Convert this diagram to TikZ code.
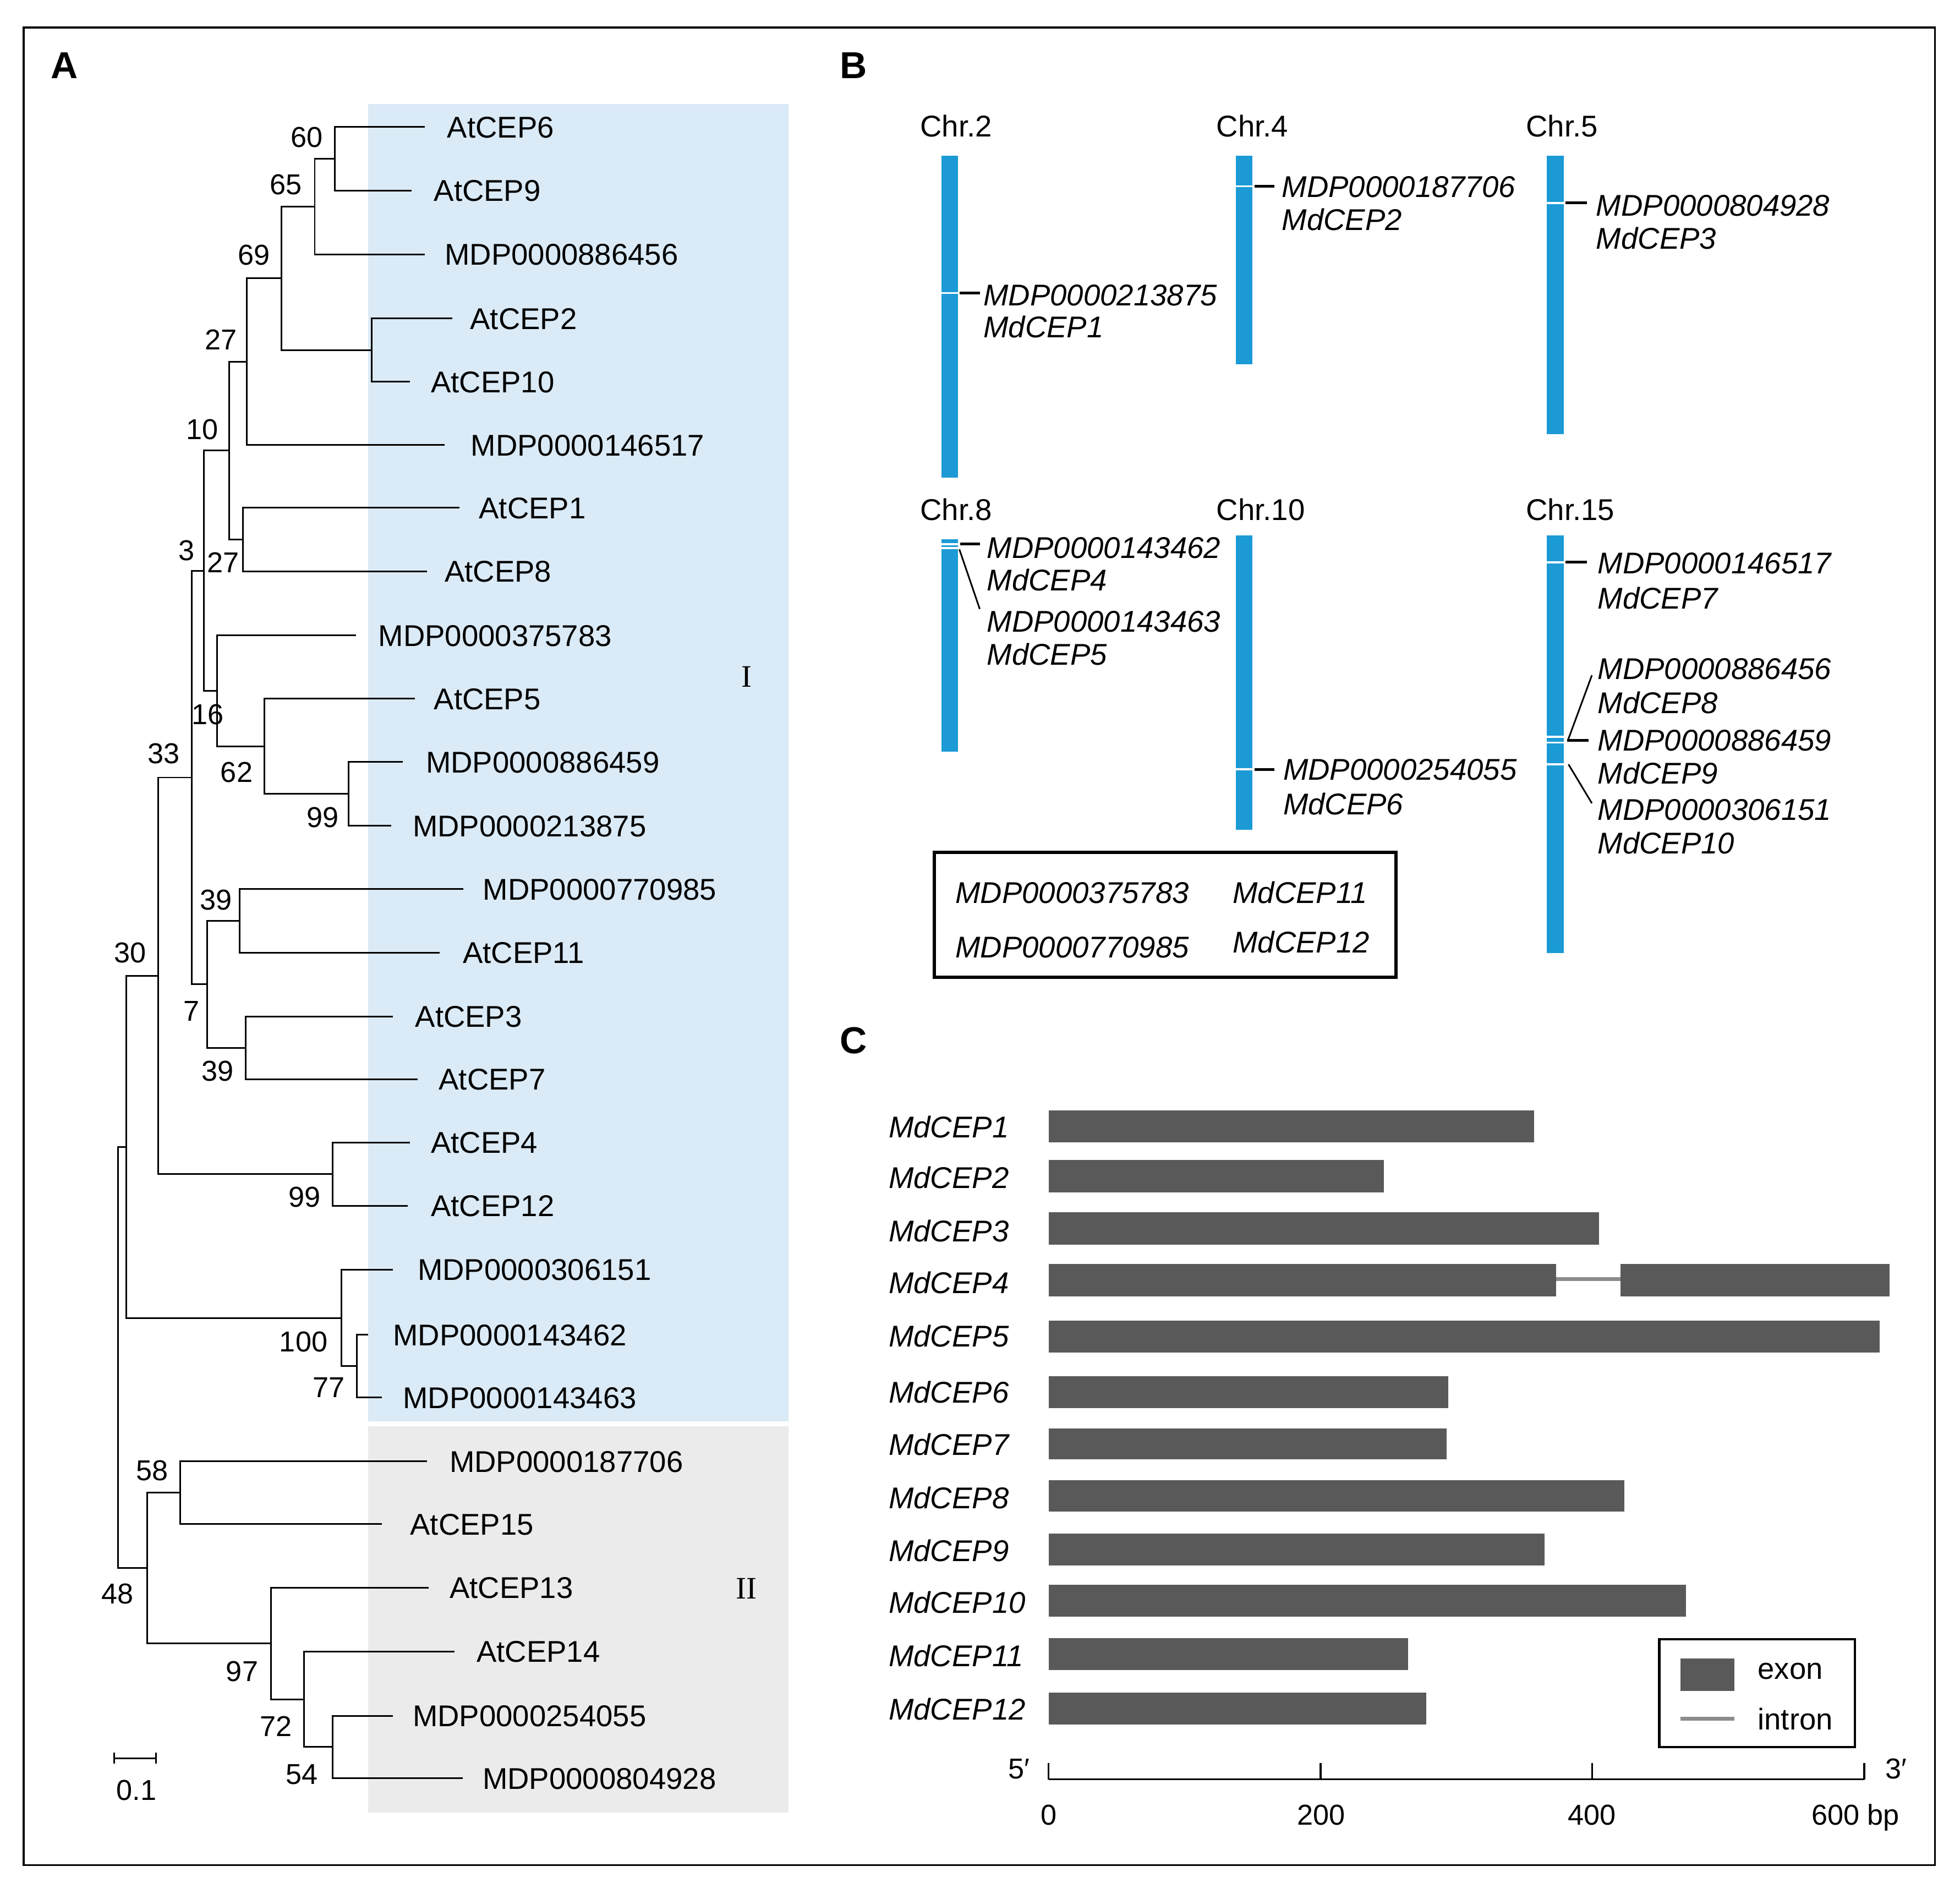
\documentclass[tikz,border=0pt]{standalone}
\usepackage{fontspec}
\setmainfont{Liberation Sans}
\newfontfamily\romanfont{Liberation Serif}
\usetikzlibrary{calc}
\newcommand\fsz[1]{\fontsize{#1}{#1}\selectfont}
\newcommand\mkclade[3]{\draw[br] (#2) -- (#2 -| #1) -- (#3 -| #1) -- (#3);}
\definecolor{bgblue}{HTML}{DAEAF6}
\definecolor{bggrey}{HTML}{EBEBEB}
\definecolor{chrblue}{HTML}{1B9AD6}
\definecolor{exongrey}{HTML}{595959}
\definecolor{introngrey}{HTML}{8C8C8C}
\begin{document}
\begin{tikzpicture}[x=1pt,y=-1pt,
  br/.style={line width=1.3pt, black, line join=miter},
  leaf/.style={inner sep=0pt, anchor=west, font=\fsz{24}, text height=17.2pt, text depth=0pt},
  bs/.style={inner sep=0pt, font=\fsz{23}, text height=16.5pt, text depth=0pt},
  gen/.style={inner sep=0pt, anchor=west, font=\fsz{24}\itshape, text height=17.2pt, text depth=0pt},
  chrlab/.style={inner sep=0pt, anchor=west, font=\fsz{24}, text height=17.2pt, text depth=0pt},
  panel/.style={inner sep=0pt, font=\fsz{30}\bfseries, text height=21.5pt, text depth=0pt},
  chrbar/.style={fill=chrblue, draw=none},
  gap/.style={fill=white, draw=none},
  tick/.style={line width=2.2pt, black},
  diag/.style={line width=1.3pt, black},
  exon/.style={fill=exongrey, draw=none},
  intron/.style={line width=3pt, introngrey},
  axlab/.style={inner sep=0pt, font=\fsz{23}, text height=16.5pt, text depth=0pt}]
\useasboundingbox (0,0) rectangle (1568,1515);
\fill[white] (0,0) rectangle (1568,1515);

% ---------------- Panel A ----------------
\fill[bgblue] (294.7,83.4) rectangle (630.7,1137.2);
\fill[bggrey] (294.7,1140.8) rectangle (630.7,1450);
\node[panel] (pA) at (51.6,51.8) {A};
\node[inner sep=0pt, font=\fsz{25}\romanfont] (gI) at (597.3,541.3) {I};
\node[inner sep=0pt, font=\fsz{25}\romanfont] (gII) at (597.3,1271) {II};

\foreach \yy/\xe/\xl/\nm [count=\i] in {
 101.6/340/357.6/AtCEP6,
 152.5/329.2/347/AtCEP9,
 203.5/340/355.6/MDP0000886456,
 254.8/361.9/376/AtCEP2,
 305.4/328/344.6/AtCEP10,
 356/355.6/376.5/MDP0000146517,
 406.1/367.4/383/AtCEP1,
 457/341.8/355.6/AtCEP8,
 508.3/284.8/302.5/MDP0000375783,
 558.9/332/347/AtCEP5,
 609.6/322.2/340.6/MDP0000886459,
 660.5/313.1/330/MDP0000213875,
 711.2/370.5/386.2/MDP0000770985,
 762.1/351.6/370.1/AtCEP11,
 813.1/314.3/332/AtCEP3,
 863.4/334/350.9/AtCEP7,
 914/328.1/344.6/AtCEP4,
 964.6/326.1/344.6/AtCEP12,
 1015.7/314.3/334/MDP0000306151,
 1067.9/294.7/314.3/MDP0000143462,
 1117.9/305.7/322.2/MDP0000143463,
 1169/341.8/359.5/MDP0000187706,
 1219.3/305.7/328/AtCEP15,
 1270/343/359.5/AtCEP13,
 1321.2/363.4/381.1/AtCEP14,
 1372.6/314.3/330/MDP0000254055,
 1422.6/370.1/385.9/MDP0000804928}
{
  \coordinate (l\i) at (\xe,\yy);
  \node[leaf] (t\i) at (\xl,\yy) {\nm};
}

\coordinate (n60) at (268,127.05);
\coordinate (n65) at (251.8,165.3);
\coordinate (nA2) at (297.4,280.1);
\coordinate (n69) at (225.1,222.7);
\coordinate (n27a) at (197.6,289.35);
\coordinate (n27b) at (194.5,431.55);
\coordinate (n10) at (183.4,360.45);
\coordinate (n99a) at (279,635.05);
\coordinate (n62) at (211.7,596.98);
\coordinate (n16) at (173.6,552.64);
\coordinate (n3) at (163,456.55);
\coordinate (n39a) at (191.7,736.65);
\coordinate (n39b) at (196.4,838.25);
\coordinate (n7) at (165.8,787.45);
\coordinate (n33) at (153.2,622);
\coordinate (n99b) at (266,939.3);
\coordinate (n30) at (126.5,780.65);
\coordinate (n77) at (285.6,1092.9);
\coordinate (n100) at (273.1,1054.3);
\coordinate (nA) at (100.9,917.48);
\coordinate (n58) at (144.1,1194.15);
\coordinate (n54) at (266,1397.6);
\coordinate (n72) at (243.2,1359.4);
\coordinate (n97) at (216.9,1314.7);
\coordinate (n48) at (117.8,1254.43);
\coordinate (nroot) at (94.6,1085.95);

\mkclade{n60}{l1}{l2}
\mkclade{n65}{n60}{l3}
\mkclade{nA2}{l4}{l5}
\mkclade{n69}{n65}{nA2}
\mkclade{n27a}{n69}{l6}
\mkclade{n27b}{l7}{l8}
\mkclade{n10}{n27a}{n27b}
\mkclade{n99a}{l11}{l12}
\mkclade{n62}{l10}{n99a}
\mkclade{n16}{l9}{n62}
\mkclade{n3}{n10}{n16}
\mkclade{n39a}{l13}{l14}
\mkclade{n39b}{l15}{l16}
\mkclade{n7}{n39a}{n39b}
\mkclade{n33}{n3}{n7}
\mkclade{n99b}{l17}{l18}
\mkclade{n30}{n33}{n99b}
\mkclade{n77}{l20}{l21}
\mkclade{n100}{l19}{n77}
\mkclade{nA}{n30}{n100}
\mkclade{n58}{l22}{l23}
\mkclade{n54}{l26}{l27}
\mkclade{n72}{l25}{n54}
\mkclade{n97}{l24}{n72}
\mkclade{n48}{n58}{n97}
\mkclade{nroot}{nA}{n48}

\foreach \xx/\yy/\v [count=\i] in {
 245.5/109.6/60, 228.6/147.3/65, 203/203.8/69, 176.8/271.4/27,
 161.8/343.4/10, 149.3/440/3, 178.7/449.9/27, 166.2/571.3/16,
 130.8/602.5/33, 189.3/617.6/62, 258/653.4/99, 172.8/719.5/39,
 104/762/30, 153.2/808.4/7, 174/856.3/39, 243.6/957.3/99,
 242.8/1073.3/100, 263.2/1109.8/77, 121.8/1176.3/58, 94.2/1274.8/48,
 193.7/1336.9/97, 220.8/1380.7/72, 241.6/1419/54}
{
  \node[bs] (bs\i) at (\xx,\yy) {\v};
}

% scale bar
\coordinate (sb1) at (91.5,1406.5);
\coordinate (sb2) at (124.9,1406.5);
\draw[line width=1.4pt] (sb1) -- (sb2);
\draw[line width=1.4pt] ($(sb1)+(0,-4.5)$) -- ($(sb1)+(0,4.5)$);
\draw[line width=1.4pt] ($(sb2)+(0,-4.5)$) -- ($(sb2)+(0,4.5)$);
\node[bs] (sbl) at (109.2,1431.8) {0.1};

% ---------------- Panel B ----------------
\node[panel] (pB) at (683,51.8) {B};
\node[chrlab] (c2) at (736,101) {Chr.2};
\node[chrlab] (c4) at (973,101) {Chr.4};
\node[chrlab] (c5) at (1220.7,101) {Chr.5};
\node[chrlab] (c8) at (736,407.6) {Chr.8};
\node[chrlab] (c10) at (973,407.6) {Chr.10};
\node[chrlab] (c15) at (1220.7,407.6) {Chr.15};

\fill[chrbar] (753,124.5) rectangle (766.5,382.3);
\fill[chrbar] (988.8,124.5) rectangle (1002,291.3);
\fill[chrbar] (1237.5,124.5) rectangle (1251,347.4);
\fill[chrbar] (753,431.3) rectangle (766.5,601.4);
\fill[chrbar] (988.8,428.3) rectangle (1002,663.6);
\fill[chrbar] (1237.5,428.3) rectangle (1251,762.6);

\fill[gap] (753,233.6) rectangle (766.5,235.2);
\fill[gap] (988.8,148.2) rectangle (1002,149.8);
\fill[gap] (1237.5,161.6) rectangle (1251,163.2);
\fill[gap] (753,434.6) rectangle (766.5,436.1);
\fill[gap] (753,437.6) rectangle (766.5,439.1);
\fill[gap] (988.8,614.7) rectangle (1002,616.3);
\fill[gap] (1237.5,449) rectangle (1251,450.6);
\fill[gap] (1237.5,588.7) rectangle (1251,590.3);
\fill[gap] (1237.5,593.2) rectangle (1251,594.8);
\fill[gap] (1237.5,610.6) rectangle (1251,612.2);

\node[gen] (g1a) at (786.6,236) {MDP0000213875};
\node[gen] (g1b) at (786.6,261.5) {MdCEP1};
\node[gen] (g2a) at (1025.3,149) {MDP0000187706};
\node[gen] (g2b) at (1025.3,175.5) {MdCEP2};
\node[gen] (g3a) at (1276.8,164) {MDP0000804928};
\node[gen] (g3b) at (1276.8,190.7) {MdCEP3};
\node[gen] (g4a) at (789.4,437.9) {MDP0000143462};
\node[gen] (g4b) at (789.4,463.9) {MdCEP4};
\node[gen] (g5a) at (789.4,496.8) {MDP0000143463};
\node[gen] (g5b) at (789.4,523.3) {MdCEP5};
\node[gen] (g6a) at (1026.4,615.5) {MDP0000254055};
\node[gen] (g6b) at (1026.4,643.3) {MdCEP6};
\node[gen] (g7a) at (1278,450.5) {MDP0000146517};
\node[gen] (g7b) at (1278,478.3) {MdCEP7};
\node[gen] (g8a) at (1278,534.7) {MDP0000886456};
\node[gen] (g8b) at (1278,562.2) {MdCEP8};
\node[gen] (g9a) at (1278,592) {MDP0000886459};
\node[gen] (g9b) at (1278,618.6) {MdCEP9};
\node[gen] (g10a) at (1278,647.6) {MDP0000306151};
\node[gen] (g10b) at (1278,674.2) {MdCEP10};

\draw[tick] (767.5,234.4) -- (783.8,234.4);
\draw[tick] (1003.5,149) -- (1019.7,149);
\draw[tick] (1252.5,162.4) -- (1269.5,162.4);
\draw[tick] (768,435) -- (784,435);
\draw[diag] (767.5,439.5) -- (783.8,487.2);
\draw[tick] (1003.5,615.5) -- (1019.7,615.5);
\draw[tick] (1252.5,449.8) -- (1269.5,449.8);
\draw[diag] (1273.5,540.2) -- (1254.4,592);
\draw[tick] (1253.6,592.2) -- (1270.7,592.2);
\draw[diag] (1254.8,611.5) -- (1273.5,642.6);

\draw[line width=2.6pt] (747.3,681.7) rectangle (1116.8,781.6);
\node[gen] (k1) at (764.2,714.1) {MDP0000375783};
\node[gen] (k2) at (986,714.1) {MdCEP11};
\node[gen] (k3) at (764.2,757.6) {MDP0000770985};
\node[gen] (k4) at (986,753.8) {MdCEP12};

% ---------------- Panel C ----------------
\node[panel] (pC) at (683,832) {C};
\foreach \tp/\bt/\xe/\ly [count=\i] in {
 888.1/913.7/1227.4/901.6,
 928.1/954.1/1107/942,
 969.8/995.9/1279.1/984.7,
 1011.2/1037.2/1244.8/1026,
 1056.5/1082.1/1503.7/1068.7,
 1101/1126.6/1158.4/1113.6,
 1142.8/1167.5/1157.2/1155.4,
 1184.1/1209.3/1299.3/1198,
 1226.8/1252.4/1235.8/1240.3,
 1267.7/1293.3/1348.7/1282,
 1310.3/1335.9/1126.3/1324.7,
 1353.9/1379.5/1141/1367.4}
{
  \fill[exon] (838.9,\tp) rectangle (\xe,\bt);
  \node[gen] (m\i) at (710.8,\ly) {MdCEP\i};
}
\draw[intron] (1244.8,1023.3) -- (1296.5,1023.3);
\fill[exon] (1296.5,1011.2) rectangle (1511.5,1037.2);

% legend
\draw[line width=1.8pt] (1327.4,1311.2) rectangle (1484,1397.5);
\fill[exon] (1344.2,1326.9) rectangle (1387.4,1352.6);
\draw[intron] (1344.2,1375) -- (1387.4,1375);
\node[inner sep=0pt, anchor=west, font=\fsz{24}] (lex) at (1406,1336.8) {exon};
\node[inner sep=0pt, anchor=west, font=\fsz{24}] (lin) at (1406,1375) {intron};

% axis
\coordinate (ax0) at (838.9,1423.5);
\coordinate (ax6) at (1491.3,1423.5);
\draw[line width=1.5pt] (ax0) -- (ax6);
\foreach \xx in {838.9,1056.4,1273.8,1491.3}
  \draw[line width=1.5pt] (\xx,1423.5) -- (\xx,1410.5);
\node[axlab] (a0) at (838.9,1451.8) {0};
\node[axlab] (a200) at (1057,1451.8) {200};
\node[axlab] (a400) at (1273.5,1451.8) {400};
\node[axlab, anchor=west] (a600) at (1449,1451.8) {600 bp};
\node[axlab, anchor=east] (p5) at (824,1414.5) {5′};
\node[axlab, anchor=west] (p3) at (1508,1414.5) {3′};

% outer frame
\draw[line width=1.5pt] (19,22) rectangle (1548,1492);
\end{tikzpicture}
\end{document}
